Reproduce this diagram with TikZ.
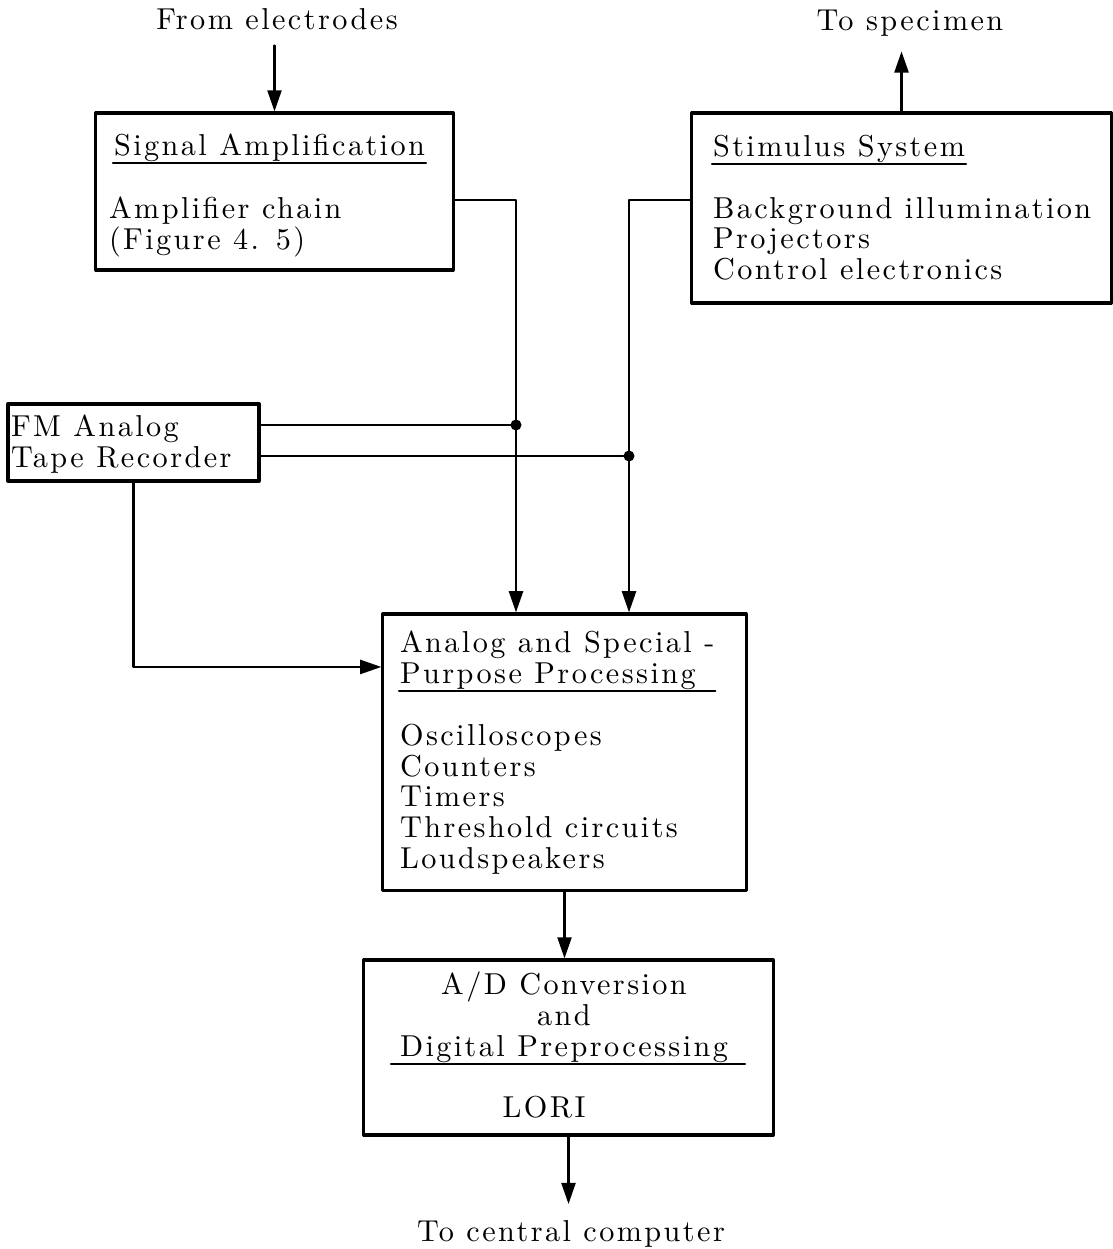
\documentclass[tikz,border=0pt]{standalone}
\usepackage{fontspec}
\setmainfont{lmroman10-regular.otf}[LetterSpace=8]
\usepackage{tikz}
\usetikzlibrary{arrows.meta}
\usetikzlibrary{positioning}
\tikzstyle{every node}=[font=\fontsize{8.6}{8.75}\selectfont]
\tikzstyle{every path}=[line width=0.6pt,line cap=round,line join=round]
\tikzstyle{blockbox}=[draw,line width=0.9pt,inner sep=0pt]
\tikzstyle{boxtext}=[inner sep=0pt,anchor=north west,align=left]
\tikzstyle{boxtitle}=[inner xsep=0pt,inner ysep=0pt,anchor=north west,align=left]
\tikzstyle{flow}=[-{Triangle[length=6pt,width=4pt]}]
\tikzstyle{junction}=[circle,fill,inner sep=0pt,minimum size=0.11cm]
\begin{document}
\begin{tikzpicture}[x=0.01cm,y=-0.01cm]
\useasboundingbox (0,0) rectangle (1113,1249);
% blocks
\node[blockbox,minimum width=3.57cm,minimum height=1.57cm] (ampbox) at (274.5,191.5) {};
\node[blockbox,minimum width=4.19cm,minimum height=1.90cm] (stimbox) at (901.5,208) {};
\node[blockbox,minimum width=2.51cm,minimum height=0.77cm] (tapebox) at (133.5,442.5) {};
\node[blockbox,minimum width=3.63cm,minimum height=2.76cm] (procbox) at (564.5,752) {};
\node[blockbox,minimum width=4.09cm,minimum height=1.75cm] (adcbox) at (568.5,1047.5) {};
% texts
\node[boxtitle] (amptitle) at (113,133) {Signal Amplification};
\node[boxtext] (amplist) at (108,196) {Amplifier chain\\(Figure 4. 5)};
\node[boxtitle] (stimtitle) at (712,134) {Stimulus System};
\node[boxtext] (stimlist) at (712,196) {Background illumination\\Projectors\\Control electronics};
\node[boxtext] (tapelist) at (10,414) {FM Analog\\Tape Recorder};
\node[boxtitle] (proctitle) at (399,630) {Analog and Special -\\Purpose Processing};
\node[boxtext] (proclist) at (399,723) {Oscilloscopes\\Counters\\Timers\\Threshold circuits\\Loudspeakers};
\node[boxtitle,anchor=north,align=center] (adctitle) at (564,971) {A/D Conversion\\and\\Digital Preprocessing};
\node[inner sep=0pt] (lori) at (544,1107) {LORI};
\node[inner sep=0pt,anchor=north] (electrodes) at (277,7) {From electrodes};
\node[inner sep=0pt,anchor=north] (specimen) at (910,9) {To specimen};
\node[inner sep=0pt,anchor=north] (computer) at (571,1219) {To central computer};
% underlines
\draw (amptitle.south west) -- (amptitle.south east);
\draw (stimtitle.south west) -- (stimtitle.south east);
\draw (proctitle.south west) -- (proctitle.south east);
\draw ([xshift=-0.08cm]adctitle.south west) -- ([xshift=0.16cm]adctitle.south east);
% connectors
\node[junction] (dotA) at (516,425) {};
\node[junction] (dotB) at (629,456) {};
\draw[flow,shorten <=0.15cm] (electrodes.south -| ampbox.north) -- (ampbox.north);
\draw[flow,shorten >=0.14cm] (stimbox.north) -- (stimbox.north |- specimen.south);
\draw[flow] ([yshift=-0.085cm]ampbox.east) -| (dotA.center) -- (dotA |- procbox.north);
\draw[flow] ([yshift=0.08cm]stimbox.west) -| (dotB.center) -- (dotB |- procbox.north);
\draw (tapebox.east |- dotA) -- (dotA.center);
\draw (tapebox.east |- dotB) -- (dotB.center);
\draw[flow] (tapebox.south) |- ([yshift=0.85cm]procbox.west);
\draw[flow] (procbox.south) -- (procbox.south |- adcbox.north);
\draw[flow,shorten >=0.15cm] (adcbox.south) -- (adcbox.south |- computer.north);
\end{tikzpicture}
\end{document}
